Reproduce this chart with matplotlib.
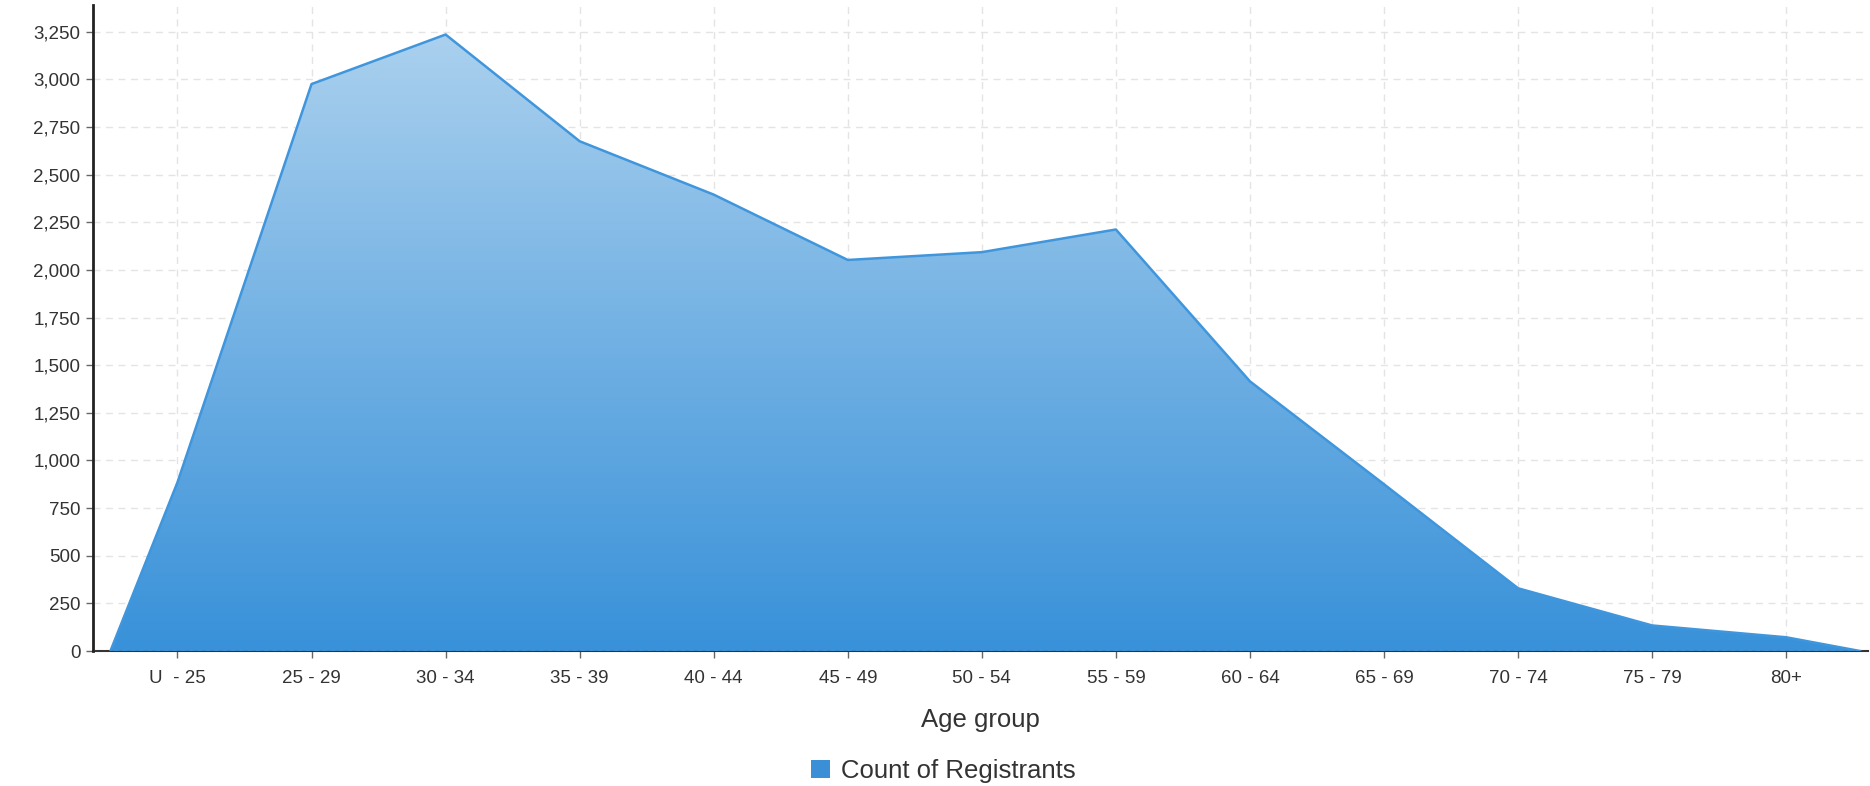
import numpy as np
import matplotlib
matplotlib.use("Agg")
import matplotlib.pyplot as plt
from matplotlib.patches import Patch, Polygon
from matplotlib.ticker import FuncFormatter, MultipleLocator
from matplotlib.colors import LinearSegmentedColormap

plt.rcParams['font.family'] = ['Liberation Sans', 'DejaVu Sans']

categories = ["U  - 25", "25 - 29", "30 - 34", "35 - 39", "40 - 44", "45 - 49",
              "50 - 54", "55 - 59", "60 - 64", "65 - 69", "70 - 74", "75 - 79", "80+"]
registrants = [885, 2975, 3235, 2675, 2395, 2052, 2093, 2212, 1415, 875, 329, 134, 72]
series_name = "Count of Registrants"
x_label = "Age group"

W, H, DPI = 1870, 786, 100
fig = plt.figure(figsize=(W / DPI, H / DPI), dpi=DPI)
ax = fig.add_axes([93 / W, 135 / H, (1868 - 93) / W, (781 - 135) / H])

n = len(categories)
xs = np.arange(n)
# area closes to zero half a category beyond the first and last groups
px = np.concatenate([[-0.5], xs, [n - 0.45]])
py = np.concatenate([[0], registrants, [0]])

ax.set_xlim(-0.63, n - 0.39)
ax.set_ylim(0, 3390)

# gradient fill clipped to area polygon
top_col = (0.667, 0.816, 0.933)
bot_col = (0.220, 0.569, 0.851)
cmap = LinearSegmentedColormap.from_list("g", [bot_col, top_col])
grad = np.linspace(0, 1, 256).reshape(-1, 1)
ymax = max(registrants)
im = ax.imshow(grad, cmap=cmap, aspect='auto', origin='lower',
               extent=[px[0], px[-1], 0, ymax], zorder=2, interpolation='bilinear')
poly = Polygon(np.column_stack([px, py]), closed=True, facecolor='none', edgecolor='none')
ax.add_patch(poly)
im.set_clip_path(poly)
ax.plot(px, py, color='#4096dc', lw=1.8, zorder=3, solid_joinstyle='round')

# grid
ax.yaxis.set_major_locator(MultipleLocator(250))
ax.set_xticks(xs)
ax.set_xticklabels(categories)
ax.grid(True, which='major', color='#e4e4e4', linestyle=(0, (5, 4)), lw=1.0, zorder=1)
ax.set_axisbelow(True)
ax.axhline(0, color='#555555', lw=1.0, linestyle=(0, (3, 3)), zorder=4)

ax.yaxis.set_major_formatter(FuncFormatter(lambda v, p: f"{int(v):,}"))

for s in ['top', 'right']:
    ax.spines[s].set_visible(False)
ax.spines['bottom'].set_color('#333333')
ax.spines['bottom'].set_linewidth(1.5)
ax.spines['bottom'].set_zorder(1.5)
ax.spines['left'].set_color('#222222')
ax.spines['left'].set_linewidth(2.0)

ax.tick_params(axis='y', length=5, width=1, color='#666666', labelsize=13.5,
               labelcolor='#333333', pad=4)
ax.tick_params(axis='x', length=5, width=1, color='#666666', labelsize=13.5,
               labelcolor='#333333', pad=9)

ax.set_xlabel(x_label, fontsize=18.5, color='#333333', labelpad=15)

handle = Patch(facecolor='#3a8fd6', edgecolor='none')
fig.legend([handle], [series_name], loc='center', bbox_to_anchor=(943 / W, 1 - 771 / H),
           frameon=False, fontsize=18.5, handlelength=0.74, handleheight=0.74,
           handletextpad=0.43, labelcolor='#333333', borderpad=0, borderaxespad=0)

fig.savefig("out.png", dpi=DPI, facecolor='white')
